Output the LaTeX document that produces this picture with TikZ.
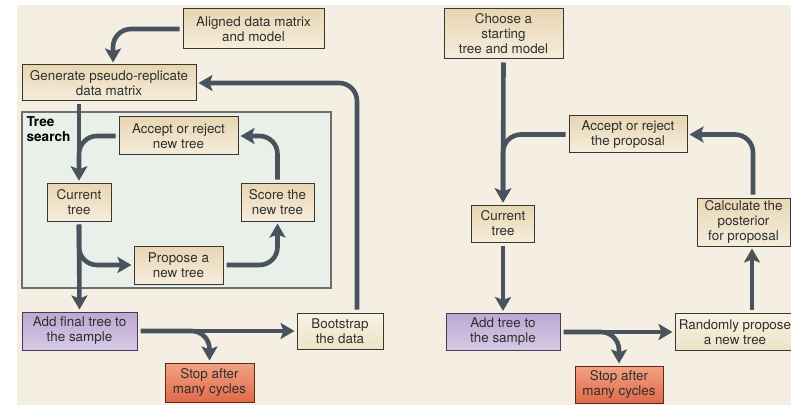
\documentclass[tikz,border=0pt]{standalone}
\usepackage{fontspec}
\setmainfont{TeX Gyre Heros}
\usetikzlibrary{arrows.meta,shadings}

\definecolor{pagebg}{HTML}{F4EEE3}
\definecolor{searchbg}{HTML}{E9EFE9}
\definecolor{searchline}{HTML}{6E6E6E}
\definecolor{flow}{HTML}{48535D}
\definecolor{boxline}{HTML}{3A3632}
\definecolor{textgrey}{HTML}{2F2F2F}
\definecolor{tanTop}{HTML}{E8D6B2}
\definecolor{tanBot}{HTML}{F5EDDC}
\definecolor{creamTop}{HTML}{F7F2E2}
\definecolor{creamBot}{HTML}{EDE3C7}
\definecolor{lilacTop}{HTML}{BCA8D2}
\definecolor{lilacBot}{HTML}{D6CAE4}
\definecolor{lilacLine}{HTML}{463A58}
\definecolor{coralTop}{HTML}{F2A383}
\definecolor{coralBot}{HTML}{E0694A}
\definecolor{coralLine}{HTML}{5A2A1E}

\tikzset{
  box/.style={draw=boxline, line width=1pt, inner sep=0pt, align=center,
    font=\fontsize{13.4}{15}\selectfont, text=textgrey},
  tanbox/.style={box, top color=tanTop, bottom color=tanBot},
  creambox/.style={box, top color=creamTop, bottom color=creamBot},
  lilacbox/.style={box, draw=lilacLine, top color=lilacTop, bottom color=lilacBot},
  coralbox/.style={box, draw=coralLine, top color=coralTop, bottom color=coralBot},
  searchpanel/.style={draw=searchline, line width=1.2pt, fill=searchbg, inner sep=0pt},
  flowline/.style={draw=flow, line width=4.6pt,
    -{Stealth[length=14pt,width=16pt,inset=3pt]},
    shorten >=2pt, shorten <=3pt, rounded corners=18pt},
}

\begin{document}
\begin{tikzpicture}[x=1pt,y=-1pt]
\useasboundingbox (0,0) rectangle (791,406);
\fill[pagebg] (17,5) rectangle (791,405);

% ---- bootstrap side ----
\node[searchpanel, minimum width=309pt, minimum height=176pt] (search) at (176.5,200) {};
\node[anchor=north west, align=left, inner sep=0pt,
      font=\fontsize{13.6}{14.5}\selectfont\bfseries] (searchlabel)
      at ([xshift=5pt,yshift=-5pt]search.north west) {Tree\\search};

\node[tanbox, minimum width=141pt, minimum height=40pt] (aligned) at (253.5,29)
  {Aligned data matrix\\and model};
\node[tanbox, minimum width=174pt, minimum height=36pt] (gen) at (109,83)
  {Generate pseudo-replicate\\data matrix};
\node[tanbox, minimum width=119pt, minimum height=38pt] (accL) at (178.5,136)
  {Accept or reject\\new tree};
\node[tanbox, minimum width=64pt, minimum height=38pt] (curL) at (79,202)
  {Current\\tree};
\node[tanbox, minimum width=73pt, minimum height=38pt] (score) at (277.5,202)
  {Score the\\new tree};
\node[tanbox, minimum width=89pt, minimum height=38pt] (propose) at (178.5,265)
  {Propose a\\new tree};
\node[lilacbox, minimum width=115pt, minimum height=38pt] (addL) at (79.5,331)
  {Add final tree to\\the sample};
\node[creambox, minimum width=86pt, minimum height=36pt] (boot) at (340,331)
  {Bootstrap\\the data};
\node[coralbox, minimum width=89pt, minimum height=39pt] (stopL) at (209.5,382.5)
  {Stop after\\many cycles};

\draw[flowline] (aligned.west) -| ([xshift=4pt]gen.north);
\draw[flowline] ([xshift=17pt]boot.north) |- (gen.east);
\draw[flowline] ([xshift=-30pt]gen.south) -- (curL.north);
\draw[flowline] (accL.west) -| (curL.north);
\draw[flowline] (curL.south) -- (addL.north);
\draw[flowline] (curL.south) |- (propose.west);
\draw[flowline] (propose.east) -| (score.south);
\draw[flowline] (score.north) |- (accL.east);
\draw[flowline] (addL.east) -- (boot.west);
\draw[flowline] (addL.east) -| (stopL.north);

% ---- MCMC side ----
\node[tanbox, minimum width=119pt, minimum height=50pt] (choose) at (503.5,34)
  {Choose a\\starting\\tree and model};
\node[tanbox, minimum width=118pt, minimum height=37pt] (accR) at (628,134.5)
  {Accept or reject\\the proposal};
\node[tanbox, minimum width=63pt, minimum height=37pt] (curR) at (503,223.5)
  {Current\\tree};
\node[tanbox, minimum width=93pt, minimum height=48pt] (calc) at (743.5,222)
  {Calculate the\\posterior\\for proposal};
\node[lilacbox, minimum width=114pt, minimum height=37pt] (addR) at (503,332)
  {Add tree to\\the sample};
\node[creambox, minimum width=120pt, minimum height=37pt] (rand) at (735,332)
  {Randomly propose\\a new tree};
\node[coralbox, minimum width=88pt, minimum height=37pt] (stopR) at (619,384.5)
  {Stop after\\many cycles};

\draw[flowline] (choose.south) -- (curR.north);
\draw[flowline] (accR.west) -| (curR.north);
\draw[flowline] (curR.south) -- (addR.north);
\draw[flowline] (addR.east) -- (rand.west);
\draw[flowline] (addR.east) -| (stopR.north);
\draw[flowline] ([xshift=17pt]rand.north) -- ([xshift=17pt]rand.north |- calc.south);
\draw[flowline] ([xshift=9.5pt]calc.north) |- (accR.east);
\end{tikzpicture}
\end{document}
